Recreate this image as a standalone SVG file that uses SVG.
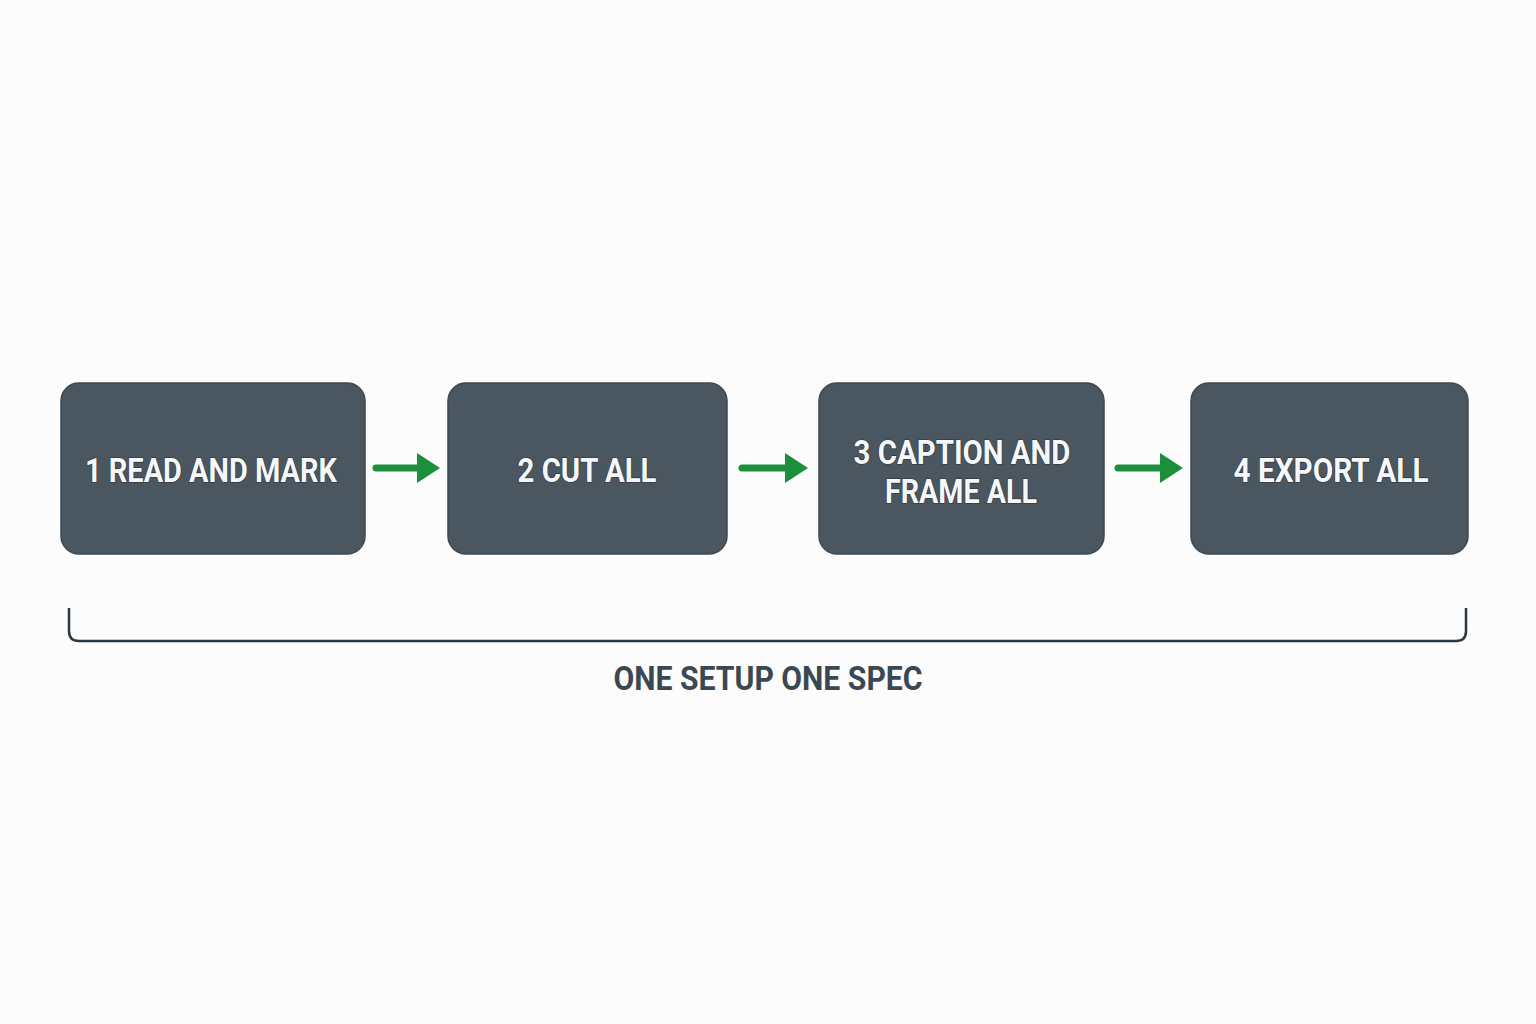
<svg xmlns="http://www.w3.org/2000/svg" width="1536" height="1024" viewBox="0 0 1536 1024">
<style>
.box{fill:#4a5660;stroke:#3e4952;stroke-width:1.5}
.lbl{font-family:Roboto,"Liberation Sans",sans-serif;font-weight:bold;font-size:33px;fill:#f5f7f9;text-anchor:middle;stroke:#2b333a;stroke-width:1.2;paint-order:stroke}
.arr{stroke:#1b8f3a;stroke-width:7;stroke-linecap:round;fill:none}
.head{fill:#1b8f3a}
.cap{font-family:Roboto,"Liberation Sans",sans-serif;font-weight:bold;font-size:33px;fill:#3b4854;text-anchor:middle}
</style>
<rect width="1536" height="1024" fill="#fcfcfc"/>
<g id="node1"><rect class="box" x="61" y="383" width="304" height="171" rx="18"/><text class="lbl" x="211" y="482" textLength="252" lengthAdjust="spacingAndGlyphs">1 READ AND MARK</text></g>
<g id="node2"><rect class="box" x="448" y="383" width="279" height="171" rx="18"/><text class="lbl" x="587" y="482" textLength="139" lengthAdjust="spacingAndGlyphs">2 CUT ALL</text></g>
<g id="node3"><rect class="box" x="819" y="383" width="285" height="171" rx="18"/><text class="lbl" x="962" y="464" textLength="217" lengthAdjust="spacingAndGlyphs">3 CAPTION AND</text><text class="lbl" x="961" y="503" textLength="152" lengthAdjust="spacingAndGlyphs">FRAME ALL</text></g>
<g id="node4"><rect class="box" x="1191" y="383" width="277" height="171" rx="18"/><text class="lbl" x="1331" y="482" textLength="195" lengthAdjust="spacingAndGlyphs">4 EXPORT ALL</text></g>
<g id="connectors">
<line class="arr" x1="376" y1="468" x2="424" y2="468"/><polygon class="head" points="417,453 440,468 417,483"/>
<line class="arr" x1="742" y1="468" x2="792" y2="468"/><polygon class="head" points="785,453 808,468 785,483"/>
<line class="arr" x1="1118" y1="468" x2="1166" y2="468"/><polygon class="head" points="1160,453 1183,468 1160,483"/>
</g>
<g id="bracket"><path d="M69,608 V631 Q69,641 79,641 H1456 Q1466,641 1466,631 V608" fill="none" stroke="#2a3844" stroke-width="2.5"/>
<text class="cap" x="768" y="690" textLength="309" lengthAdjust="spacingAndGlyphs">ONE SETUP ONE SPEC</text></g>
</svg>
